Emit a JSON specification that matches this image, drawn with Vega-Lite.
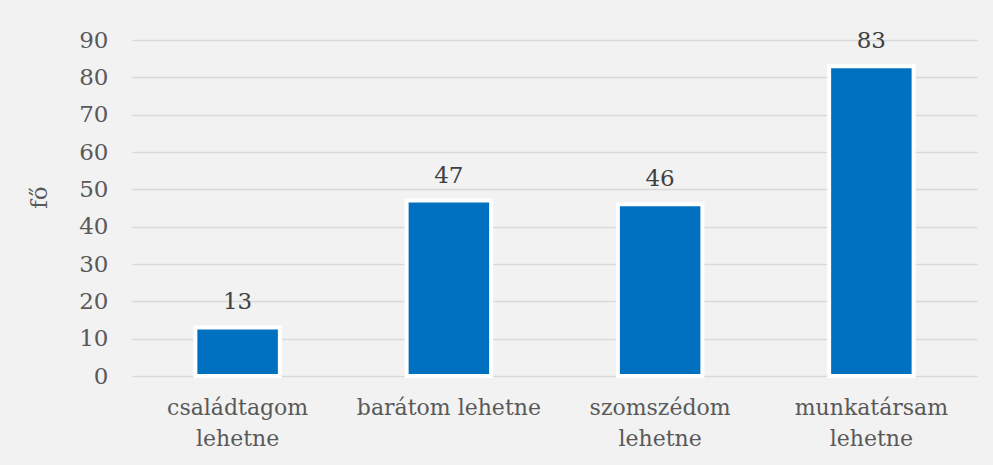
{
  "$schema": "https://vega.github.io/schema/vega-lite/v6.json",
  "autosize": {"type": "none"},
  "width": 845,
  "height": 336,
  "padding": {"left": 132, "top": 40, "right": 16, "bottom": 89},
  "background": "#f2f2f2",
  "config": {
    "view": {"stroke": null},
    "font": "DejaVu Serif"
  },
  "data": {
    "values": [
      {"kategoria": "családtagom|lehetne", "fo": 13},
      {"kategoria": "barátom lehetne", "fo": 47},
      {"kategoria": "szomszédom|lehetne", "fo": 46},
      {"kategoria": "munkatársam|lehetne", "fo": 83}
    ]
  },
  "encoding": {
    "x": {
      "field": "kategoria",
      "type": "nominal",
      "sort": null,
      "scale": {"paddingInner": 0.6, "paddingOuter": 0.3},
      "axis": {
        "title": null,
        "labelExpr": "split(datum.value, '|')",
        "labelFont": "DejaVu Serif",
        "labelAngle": 0,
        "labelFontSize": 22,
        "labelColor": "#595959",
        "labelLineHeight": 31,
        "labelPadding": 21,
        "labelBaseline": "top",
        "labelLimit": 400,
        "domain": false,
        "ticks": false,
        "grid": false
      }
    },
    "y": {
      "field": "fo",
      "type": "quantitative",
      "scale": {"domain": [0, 90], "nice": false},
      "axis": {
        "title": "fő",
        "titleFont": "DejaVu Serif",
        "labelFont": "DejaVu Serif",
        "titleFontSize": 23,
        "titleFontWeight": "normal",
        "titleColor": "#595959",
        "titleX": -93,
        "titleY": 157,
        "titleAngle": -90,
        "titleAlign": "center",
        "titleBaseline": "middle",
        "values": [0, 10, 20, 30, 40, 50, 60, 70, 80, 90],
        "labelFontSize": 23,
        "labelColor": "#595959",
        "labelPadding": 24,
        "domain": false,
        "ticks": false,
        "grid": true,
        "gridColor": "#d9d9d9",
        "gridWidth": 1.5
      }
    }
  },
  "layer": [
    {
      "mark": {"type": "bar", "color": "#0070c0", "stroke": "white", "strokeWidth": 4}
    },
    {
      "mark": {"type": "text", "font": "DejaVu Serif", "fontSize": 23, "color": "#404040", "baseline": "alphabetic", "dy": -18},
      "encoding": {"text": {"field": "fo", "type": "quantitative"}}
    }
  ]
}
